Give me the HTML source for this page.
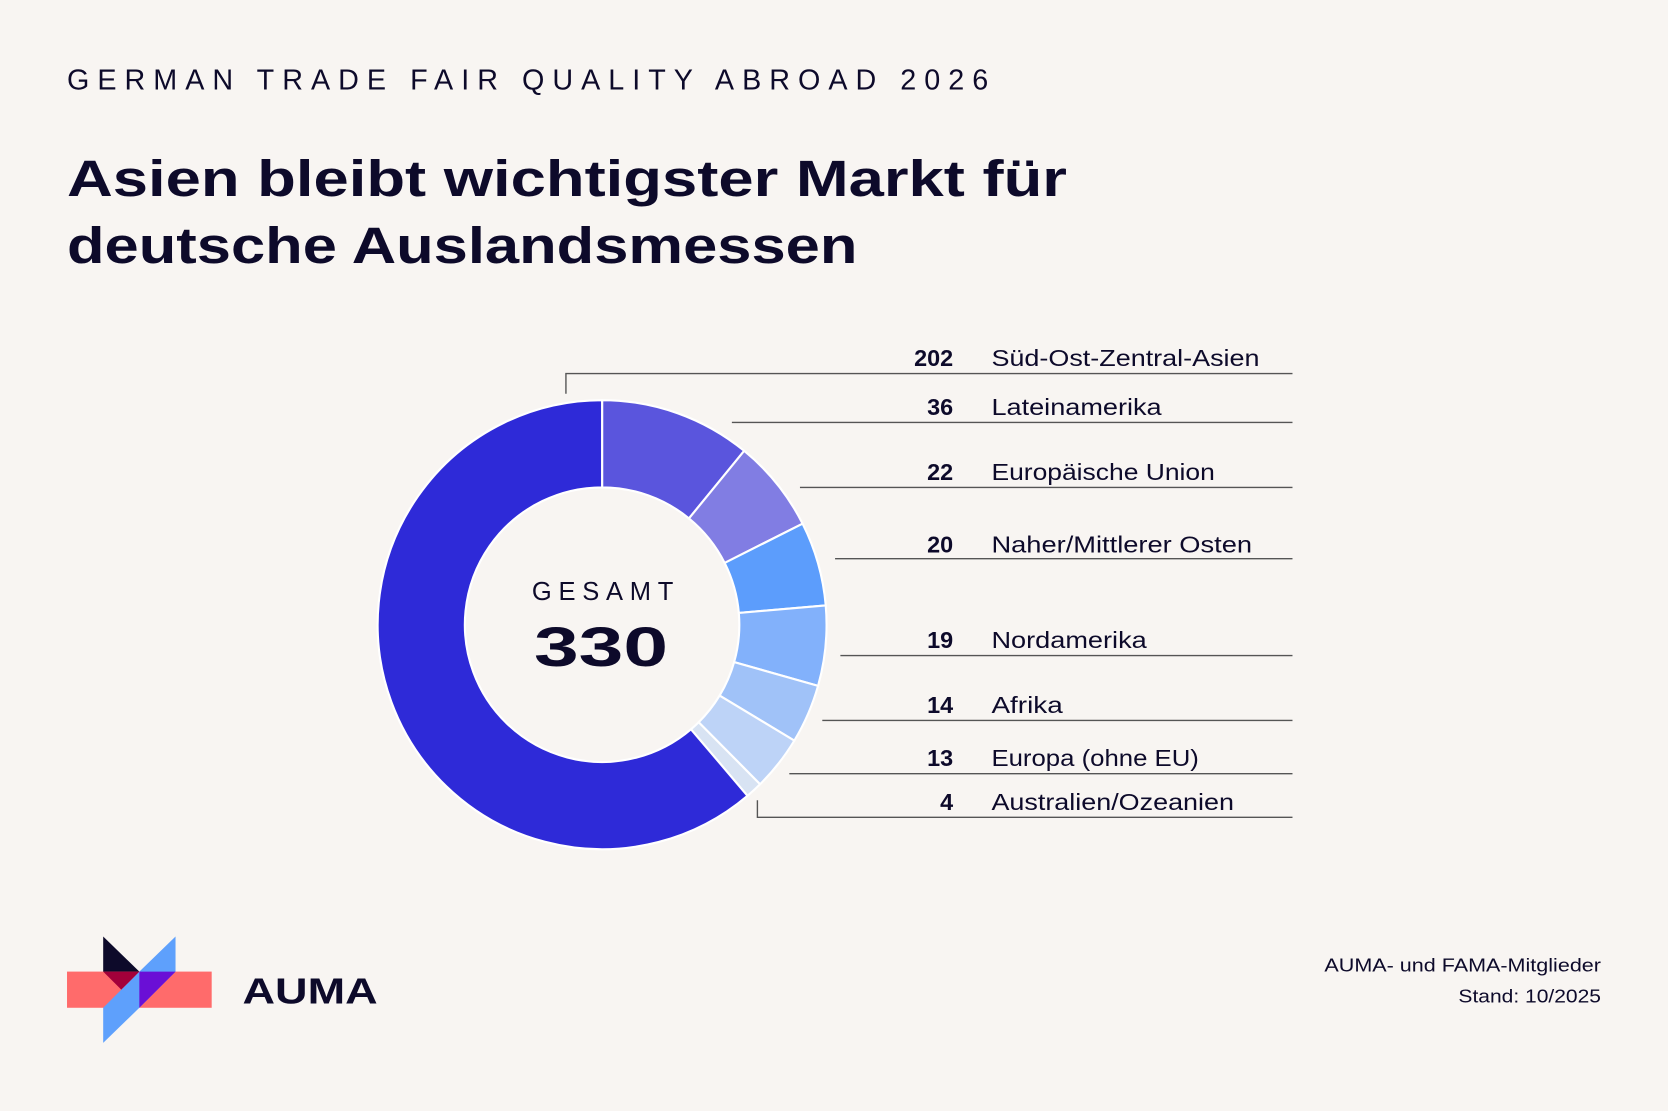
<!DOCTYPE html>
<html><head><meta charset="utf-8"><style>
html,body{margin:0;padding:0;background:#f8f5f2;}
svg{display:block;}
text{font-family:"Liberation Sans",sans-serif;fill:#0d0a2a;}
</style></head><body>
<svg id="s" width="1668" height="1111" viewBox="0 0 1568 1044" preserveAspectRatio="none">
<rect width="1568" height="1044" fill="#f8f5f2"/>
<text x="63" y="84" font-size="27" textLength="866" lengthAdjust="spacing">GERMAN TRADE FAIR QUALITY ABROAD 2026</text>
<text x="63" y="184" font-size="48" font-weight="bold" textLength="940" lengthAdjust="spacingAndGlyphs">Asien bleibt wichtigster Markt für</text>
<text x="63" y="247" font-size="48" font-weight="bold" textLength="743" lengthAdjust="spacingAndGlyphs">deutsche Auslandsmessen</text>
<g id="donut"></g>
<text x="500" y="564" font-size="24" textLength="133" lengthAdjust="spacing">GESAMT</text>
<text x="502" y="626" font-size="52" font-weight="bold" textLength="126" lengthAdjust="spacingAndGlyphs">330</text>
<g stroke="#555" stroke-width="1.3" fill="none">
<polyline points="532,370 532,351 1215,351"/>
<line x1="688" y1="397" x2="1215" y2="397"/>
<line x1="752" y1="458" x2="1215" y2="458"/>
<line x1="785" y1="525" x2="1215" y2="525"/>
<line x1="790" y1="616" x2="1215" y2="616"/>
<line x1="773" y1="677" x2="1215" y2="677"/>
<line x1="742" y1="727" x2="1215" y2="727"/>
<polyline points="712,752 712,768 1215,768"/>
</g>
<g font-size="22">
<text x="896" y="344" text-anchor="end" font-weight="bold">202</text><text x="932" y="344" textLength="252" lengthAdjust="spacingAndGlyphs">Süd-Ost-Zentral-Asien</text>
<text x="896" y="390" text-anchor="end" font-weight="bold">36</text><text x="932" y="390" textLength="160" lengthAdjust="spacingAndGlyphs">Lateinamerika</text>
<text x="896" y="451" text-anchor="end" font-weight="bold">22</text><text x="932" y="451" textLength="210" lengthAdjust="spacingAndGlyphs">Europäische Union</text>
<text x="896" y="519" text-anchor="end" font-weight="bold">20</text><text x="932" y="519" textLength="245" lengthAdjust="spacingAndGlyphs">Naher/Mittlerer Osten</text>
<text x="896" y="609" text-anchor="end" font-weight="bold">19</text><text x="932" y="609" textLength="146" lengthAdjust="spacingAndGlyphs">Nordamerika</text>
<text x="896" y="670" text-anchor="end" font-weight="bold">14</text><text x="932" y="670" textLength="67" lengthAdjust="spacingAndGlyphs">Afrika</text>
<text x="896" y="720" text-anchor="end" font-weight="bold">13</text><text x="932" y="720" textLength="195" lengthAdjust="spacingAndGlyphs">Europa (ohne EU)</text>
<text x="896" y="761" text-anchor="end" font-weight="bold">4</text><text x="932" y="761" textLength="228" lengthAdjust="spacingAndGlyphs">Australien/Ozeanien</text>
</g>
<rect x="63" y="913" width="136" height="34" fill="#ff6b6b"/>
<polygon points="97,880 131,913 97,913" fill="#0d0a2a"/>
<polygon points="131,913 165,880 165,913 131,947 97,980 97,947" fill="#5ea0fc"/>
<polygon points="97,913 131,913 114,930" fill="#a3003a"/>
<polygon points="131,913 165,913 131,947" fill="#6a0fd6"/>
<text x="228" y="943" font-size="34" font-weight="bold" textLength="127" lengthAdjust="spacingAndGlyphs">AUMA</text>
<text x="1505" y="913" font-size="17" text-anchor="end" textLength="260" lengthAdjust="spacingAndGlyphs">AUMA- und FAMA-Mitglieder</text>
<text x="1505" y="942" font-size="17" text-anchor="end" textLength="134" lengthAdjust="spacingAndGlyphs">Stand: 10/2025</text>
</svg>
<script>
var d=[[36,"#5a55dd"],[22,"#817de3"],[20,"#5c9dfc"],[19,"#82b1fb"],[14,"#a0c2f8"],[13,"#bdd3f7"],[4,"#d8e3f3"],[202,"#2e2ad8"]];
var cx=566,cy=587,R=211,r=129,a=0,g=document.getElementById("donut"),h="";
function p(rad,ang){return [cx+rad*Math.sin(ang),cy-rad*Math.cos(ang)];}
d.forEach(function(v){var a0=a,a1=a+v[0]/330*2*Math.PI;a=a1;var l=(a1-a0)>Math.PI?1:0;
var A=p(R,a0),B=p(R,a1),C=p(r,a1),D=p(r,a0);
h+='<path d="M'+A+' A'+R+','+R+' 0 '+l+' 1 '+B+' L'+C+' A'+r+','+r+' 0 '+l+' 0 '+D+' Z" fill="'+v[1]+'" stroke="#ffffff" stroke-width="2"/>';});
g.innerHTML=h;
</script>
</body></html>
